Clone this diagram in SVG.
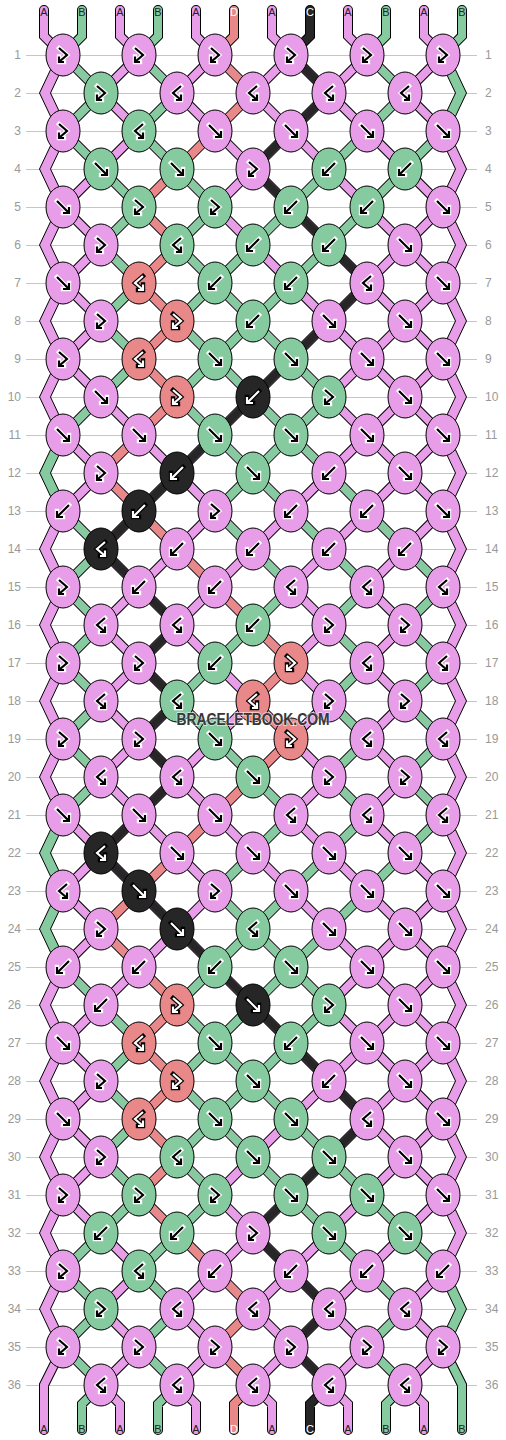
<svg xmlns="http://www.w3.org/2000/svg" xmlns:xlink="http://www.w3.org/1999/xlink" width="506" height="1440" viewBox="0 0 506 1440">
<style>
.gl{fill:none;stroke:#c6c6c6;stroke-width:1}
.rl{font-family:"Liberation Sans",Arial,sans-serif;font-size:12px;fill:#999}
.sl{font-family:"Liberation Sans",Arial,sans-serif;font-size:11px;text-anchor:middle;fill:#222}
.sl .w{fill:#fff}
.o{fill:none;stroke:#000;stroke-width:10}
.c{fill:none;stroke-width:8}
.rc{stroke-linecap:round}
.cA{stroke:#e89de8}.cB{stroke:#86ca9f}.cC{stroke:#262626}.cD{stroke:#e88888}
.eA{fill:#e89de8}.eB{fill:#86ca9f}
#knots ellipse{stroke:#000;stroke-width:1}
.p ellipse{fill:#e89de8}.g ellipse{fill:#86ca9f}.r ellipse{fill:#e88888}.k ellipse{fill:#262626}
.p use,.g use{stroke:#000;color:#fff}
.r use,.k use{stroke:#fff;color:#000}
.wm{font-family:"Liberation Sans",Arial,sans-serif;font-weight:bold;font-size:16px;fill:#383838;stroke:#fff;stroke-opacity:.55;stroke-width:2;paint-order:stroke;text-anchor:middle}
</style>
<defs>
<g id="af"><path d="M-6-6L5 5M0 6H6V0" fill="none" stroke="currentColor" stroke-width="4.4" stroke-linecap="square"/><path d="M-6-6L5 5M0 6H6V0" fill="none" stroke-width="2.2"/></g>
<g id="ab"><path d="M6-6L-5 5M0 6H-6V0" fill="none" stroke="currentColor" stroke-width="4.4" stroke-linecap="square"/><path d="M6-6L-5 5M0 6H-6V0" fill="none" stroke-width="2.2"/></g>
<g id="afb"><path d="M-4-7L4 0L-3.5 6.5M-4 1.5V7H1" fill="none" stroke="currentColor" stroke-width="4.4" stroke-linecap="square"/><path d="M-4-7L4 0L-3.5 6.5M-4 1.5V7H1" fill="none" stroke-width="2.2"/></g>
<g id="abf"><path d="M4-7L-4 0L3.5 6.5M4 1.5V7H-1" fill="none" stroke="currentColor" stroke-width="4.4" stroke-linecap="square"/><path d="M4-7L-4 0L3.5 6.5M4 1.5V7H-1" fill="none" stroke-width="2.2"/></g>
<polygon id="le" points="57.5,-38 39.5,0 57.5,38 68.5,38 50.5,0 68.5,-38" stroke="#000" stroke-width="1"/>
<polygon id="re" points="448.5,-38 466.5,0 448.5,38 437.5,38 455.5,0 437.5,-38" stroke="#000" stroke-width="1"/>
</defs>
<rect width="506" height="1440" fill="#fff"/>
<g id="grid" transform="translate(0 .5)">
<path class="gl" d="M26 55H477M26 93H477M26 131H477M26 169H477M26 207H477M26 245H477M26 283H477M26 321H477M26 359H477M26 397H477M26 435H477M26 473H477M26 511H477M26 549H477M26 587H477M26 625H477M26 663H477M26 701H477M26 739H477M26 777H477M26 815H477M26 853H477M26 891H477M26 929H477M26 967H477M26 1005H477M26 1043H477M26 1081H477M26 1119H477M26 1157H477M26 1195H477M26 1233H477M26 1271H477M26 1309H477M26 1347H477M26 1385H477"/>
</g>
<g id="rowlabels" class="rl">
<g text-anchor="end">
<text x="21" y="59">1</text><text x="21" y="97">2</text><text x="21" y="135">3</text><text x="21" y="173">4</text><text x="21" y="211">5</text><text x="21" y="249">6</text><text x="21" y="287">7</text><text x="21" y="325">8</text><text x="21" y="363">9</text><text x="21" y="401">10</text><text x="21" y="439">11</text><text x="21" y="477">12</text><text x="21" y="515">13</text><text x="21" y="553">14</text><text x="21" y="591">15</text><text x="21" y="629">16</text><text x="21" y="667">17</text><text x="21" y="705">18</text><text x="21" y="743">19</text><text x="21" y="781">20</text><text x="21" y="819">21</text><text x="21" y="857">22</text><text x="21" y="895">23</text><text x="21" y="933">24</text><text x="21" y="971">25</text><text x="21" y="1009">26</text><text x="21" y="1047">27</text><text x="21" y="1085">28</text><text x="21" y="1123">29</text><text x="21" y="1161">30</text><text x="21" y="1199">31</text><text x="21" y="1237">32</text><text x="21" y="1275">33</text><text x="21" y="1313">34</text><text x="21" y="1351">35</text><text x="21" y="1389">36</text>
</g>
<g text-anchor="start">
<text x="485" y="59">1</text><text x="485" y="97">2</text><text x="485" y="135">3</text><text x="485" y="173">4</text><text x="485" y="211">5</text><text x="485" y="249">6</text><text x="485" y="287">7</text><text x="485" y="325">8</text><text x="485" y="363">9</text><text x="485" y="401">10</text><text x="485" y="439">11</text><text x="485" y="477">12</text><text x="485" y="515">13</text><text x="485" y="553">14</text><text x="485" y="591">15</text><text x="485" y="629">16</text><text x="485" y="667">17</text><text x="485" y="705">18</text><text x="485" y="743">19</text><text x="485" y="781">20</text><text x="485" y="819">21</text><text x="485" y="857">22</text><text x="485" y="895">23</text><text x="485" y="933">24</text><text x="485" y="971">25</text><text x="485" y="1009">26</text><text x="485" y="1047">27</text><text x="485" y="1085">28</text><text x="485" y="1123">29</text><text x="485" y="1161">30</text><text x="485" y="1199">31</text><text x="485" y="1237">32</text><text x="485" y="1275">33</text><text x="485" y="1313">34</text><text x="485" y="1351">35</text><text x="485" y="1389">36</text>
</g>
</g>
<g id="connectors">
<g id="edges">
<use href="#le" y="93" class="eA"/><use href="#le" y="169" class="eA"/><use href="#le" y="245" class="eA"/><use href="#le" y="321" class="eA"/><use href="#le" y="397" class="eA"/><use href="#le" y="473" class="eB"/><use href="#le" y="549" class="eA"/><use href="#le" y="625" class="eA"/><use href="#le" y="701" class="eA"/><use href="#le" y="777" class="eA"/><use href="#le" y="853" class="eB"/><use href="#le" y="929" class="eB"/><use href="#le" y="1005" class="eA"/><use href="#le" y="1081" class="eA"/><use href="#le" y="1157" class="eA"/><use href="#le" y="1233" class="eA"/><use href="#le" y="1309" class="eA"/>
<use href="#re" y="93" class="eB"/><use href="#re" y="169" class="eA"/><use href="#re" y="245" class="eA"/><use href="#re" y="321" class="eA"/><use href="#re" y="397" class="eA"/><use href="#re" y="473" class="eA"/><use href="#re" y="549" class="eA"/><use href="#re" y="625" class="eA"/><use href="#re" y="701" class="eA"/><use href="#re" y="777" class="eA"/><use href="#re" y="853" class="eA"/><use href="#re" y="929" class="eA"/><use href="#re" y="1005" class="eA"/><use href="#re" y="1081" class="eA"/><use href="#re" y="1157" class="eA"/><use href="#re" y="1233" class="eA"/><use href="#re" y="1309" class="eB"/>
</g>
<path id="bars-outline" class="o rc" d="M44 10V36L63 55M82 10V36L63 55M120 10V36L139 55M158 10V36L139 55M196 10V36L215 55M234 10V36L215 55M272 10V36L291 55M310 10V36L291 55M348 10V36L367 55M386 10V36L367 55M424 10V36L443 55M462 10V36L443 55M63 1347L44 1385V1430M101 1385L82 1404V1430M101 1385L120 1404V1430M177 1385L158 1404V1430M177 1385L196 1404V1430M253 1385L234 1404V1430M253 1385L272 1404V1430M329 1385L310 1404V1430M329 1385L348 1404V1430M405 1385L386 1404V1430M405 1385L424 1404V1430M443 1347L462 1385V1430"/>
<path id="lattice-outline" class="o" d="M367 55L443 131M291 55L443 207M215 55L443 283M139 55L443 359M63 55L443 435M63 131L443 511M63 207L443 587M63 283L443 663M63 359L443 739M63 435L443 815M63 511L443 891M63 587L443 967M63 663L443 1043M63 739L443 1119M63 815L443 1195M63 891L443 1271M63 967L443 1347M63 1043L405 1385M63 1119L329 1385M63 1195L253 1385M63 1271L177 1385M63 1347L101 1385M139 55L63 131M215 55L63 207M291 55L63 283M367 55L63 359M443 55L63 435M443 131L63 511M443 207L63 587M443 283L63 663M443 359L63 739M443 435L63 815M443 511L63 891M443 587L63 967M443 663L63 1043M443 739L63 1119M443 815L63 1195M443 891L63 1271M443 967L63 1347M443 1043L101 1385M443 1119L177 1385M443 1195L253 1385M443 1271L329 1385M443 1347L405 1385"/>
<path id="lattice-A" class="c cA" d="M367 55L443 131M291 55L443 207M215 55L443 283M139 55L443 359M63 55L443 435M63 131L443 511M63 207L443 587M63 283L443 663M63 359L443 739M63 435L443 815M63 511L443 891M63 587L443 967M63 663L443 1043M63 739L443 1119M63 815L443 1195M63 891L443 1271M63 967L443 1347M63 1043L405 1385M63 1119L329 1385M63 1195L253 1385M63 1271L177 1385M63 1347L101 1385M139 55L63 131M215 55L63 207M291 55L63 283M367 55L63 359M443 55L63 435M443 131L63 511M443 207L63 587M443 283L63 663M443 359L63 739M443 435L63 815M443 511L63 891M443 587L63 967M443 663L63 1043M443 739L63 1119M443 815L63 1195M443 891L63 1271M443 967L63 1347M443 1043L101 1385M443 1119L177 1385M443 1195L253 1385M443 1271L329 1385M443 1347L405 1385"/>
<path id="strand-B" class="c cB" d="M63 55l38 38M139 55l38 38M367 55l38 38M101 93l-38 38M177 93l-38 38M405 93l-38 38M63 131l38 38M139 131l38 38M367 131l-38 38M443 131l-38 38M101 169l38 38M177 169l38 38M329 169l-38 38M405 169l-38 38M139 207l-38 38M215 207l-38 38M291 207l-38 38M367 207l-38 38M101 245l38 38M177 245l38 38M253 245l-38 38M329 245l-38 38M139 283l-38 38M215 283l-38 38M215 283l38 38M291 283l-38 38M101 321l38 38M177 321l38 38M253 321l-38 38M253 321l38 38M139 359l-38 38M215 359l-38 38M215 359l38 38M291 359l38 38M101 397l-38 38M177 397l38 38M253 397l38 38M329 397l-38 38M215 435l38 38M291 435l-38 38M291 435l38 38M253 473l-38 38M253 473l38 38M329 473l38 38M63 511l38 38M215 511l38 38M291 511l38 38M367 511l38 38M101 549l-38 38M253 549l38 38M329 549l38 38M405 549l38 38M63 587l38 38M291 587l-38 38M367 587l-38 38M443 587l-38 38M101 625l-38 38M253 625l-38 38M329 625l38 38M405 625l38 38M63 663l38 38M215 663l-38 38M367 663l-38 38M443 663l-38 38M101 701l-38 38M177 701l38 38M329 701l38 38M405 701l38 38M63 739l38 38M215 739l38 38M367 739l-38 38M443 739l-38 38M101 777l-38 38M253 777l38 38M329 777l38 38M405 777l38 38M291 815l-38 38M367 815l-38 38M443 815l-38 38M253 853l-38 38M329 853l-38 38M405 853l-38 38M215 891l38 38M291 891l-38 38M367 891l-38 38M253 929l-38 38M253 929l38 38M329 929l-38 38M63 967l38 38M215 967l-38 38M291 967l-38 38M291 967l38 38M101 1005l38 38M177 1005l38 38M253 1005l-38 38M329 1005l-38 38M139 1043l-38 38M215 1043l-38 38M215 1043l38 38M291 1043l-38 38M101 1081l38 38M177 1081l38 38M253 1081l-38 38M253 1081l38 38M139 1119l-38 38M215 1119l-38 38M215 1119l38 38M291 1119l38 38M101 1157l38 38M177 1157l38 38M253 1157l38 38M329 1157l38 38M139 1195l-38 38M215 1195l-38 38M291 1195l38 38M367 1195l38 38M101 1233l-38 38M177 1233l-38 38M329 1233l38 38M405 1233l38 38M63 1271l38 38M139 1271l38 38M367 1271l38 38M101 1309l-38 38M177 1309l-38 38M405 1309l-38 38M63 1347l38 38M139 1347l38 38M367 1347l38 38"/>
<path id="strand-D" class="c cD" d="M215 55l38 38M253 93l-38 38M215 131l-38 38M177 169l-38 38M139 207l38 38M177 245l-38 38M139 283l38 38M177 321l-38 38M139 359l38 38M177 397l-38 38M139 435l-38 38M101 473l38 38M139 511l38 38M177 549l38 38M215 587l38 38M253 625l38 38M291 663l-38 38M253 701l38 38M291 739l-38 38M253 777l-38 38M215 815l-38 38M177 853l-38 38M139 891l-38 38M101 929l38 38M139 967l38 38M177 1005l-38 38M139 1043l38 38M177 1081l-38 38M139 1119l38 38M177 1157l-38 38M139 1195l38 38M177 1233l38 38M215 1271l38 38M253 1309l-38 38M215 1347l38 38"/>
<path id="strand-C" class="c cC" d="M291 55l38 38M329 93l-38 38M291 131l-38 38M253 169l38 38M291 207l38 38M329 245l38 38M367 283l-38 38M329 321l-38 38M291 359l-38 38M253 397l-38 38M215 435l-38 38M177 473l-38 38M139 511l-38 38M101 549l38 38M139 587l38 38M177 625l-38 38M139 663l38 38M177 701l-38 38M139 739l38 38M177 777l-38 38M139 815l-38 38M101 853l38 38M139 891l38 38M177 929l38 38M215 967l38 38M253 1005l38 38M291 1043l38 38M329 1081l38 38M367 1119l-38 38M329 1157l-38 38M291 1195l-38 38M253 1233l38 38M291 1271l38 38M329 1309l-38 38M291 1347l38 38"/>
<path id="bars-A" class="c cA rc" d="M44 10V36L63 55M120 10V36L139 55M196 10V36L215 55M272 10V36L291 55M348 10V36L367 55M424 10V36L443 55M63 1347L44 1385V1430M101 1385L120 1404V1430M177 1385L196 1404V1430M253 1385L272 1404V1430M329 1385L348 1404V1430M405 1385L424 1404V1430"/>
<path id="bars-B" class="c cB rc" d="M82 10V36L63 55M158 10V36L139 55M386 10V36L367 55M462 10V36L443 55M101 1385L82 1404V1430M177 1385L158 1404V1430M405 1385L386 1404V1430M443 1347L462 1385V1430"/>
<path id="bars-C" class="c cC rc" d="M310 10V36L291 55M329 1385L310 1404V1430"/>
<path id="bars-D" class="c cD rc" d="M234 10V36L215 55M253 1385L234 1404V1430"/>
</g>
<g id="stringlabels" class="sl">
<text x="44" y="16">A</text><text x="82" y="16">B</text><text x="120" y="16">A</text><text x="158" y="16">B</text><text x="196" y="16">A</text><text x="234" y="16" class="w">D</text><text x="272" y="16">A</text><text x="310" y="16" class="w">C</text><text x="348" y="16">A</text><text x="386" y="16">B</text><text x="424" y="16">A</text><text x="462" y="16">B</text>
<text x="44" y="1433">A</text><text x="82" y="1433">B</text><text x="120" y="1433">A</text><text x="158" y="1433">B</text><text x="196" y="1433">A</text><text x="234" y="1433" class="w">D</text><text x="272" y="1433">A</text><text x="310" y="1433" class="w">C</text><text x="348" y="1433">A</text><text x="386" y="1433">B</text><text x="424" y="1433">A</text><text x="462" y="1433">B</text>
</g>
<g id="knots">
<g id="k1-1" class="p" transform="translate(63 55)"><ellipse rx="17" ry="21"/><use href="#afb"/></g>
<g id="k1-2" class="p" transform="translate(139 55)"><ellipse rx="17" ry="21"/><use href="#afb"/></g>
<g id="k1-3" class="p" transform="translate(215 55)"><ellipse rx="17" ry="21"/><use href="#afb"/></g>
<g id="k1-4" class="p" transform="translate(291 55)"><ellipse rx="17" ry="21"/><use href="#afb"/></g>
<g id="k1-5" class="p" transform="translate(367 55)"><ellipse rx="17" ry="21"/><use href="#afb"/></g>
<g id="k1-6" class="p" transform="translate(443 55)"><ellipse rx="17" ry="21"/><use href="#afb"/></g>
<g id="k2-1" class="g" transform="translate(101 93)"><ellipse rx="17" ry="21"/><use href="#afb"/></g>
<g id="k2-2" class="p" transform="translate(177 93)"><ellipse rx="17" ry="21"/><use href="#abf"/></g>
<g id="k2-3" class="p" transform="translate(253 93)"><ellipse rx="17" ry="21"/><use href="#abf"/></g>
<g id="k2-4" class="p" transform="translate(329 93)"><ellipse rx="17" ry="21"/><use href="#abf"/></g>
<g id="k2-5" class="p" transform="translate(405 93)"><ellipse rx="17" ry="21"/><use href="#abf"/></g>
<g id="k3-1" class="p" transform="translate(63 131)"><ellipse rx="17" ry="21"/><use href="#afb"/></g>
<g id="k3-2" class="g" transform="translate(139 131)"><ellipse rx="17" ry="21"/><use href="#abf"/></g>
<g id="k3-3" class="p" transform="translate(215 131)"><ellipse rx="17" ry="21"/><use href="#af"/></g>
<g id="k3-4" class="p" transform="translate(291 131)"><ellipse rx="17" ry="21"/><use href="#af"/></g>
<g id="k3-5" class="p" transform="translate(367 131)"><ellipse rx="17" ry="21"/><use href="#af"/></g>
<g id="k3-6" class="p" transform="translate(443 131)"><ellipse rx="17" ry="21"/><use href="#af"/></g>
<g id="k4-1" class="g" transform="translate(101 169)"><ellipse rx="17" ry="21"/><use href="#af"/></g>
<g id="k4-2" class="g" transform="translate(177 169)"><ellipse rx="17" ry="21"/><use href="#af"/></g>
<g id="k4-3" class="p" transform="translate(253 169)"><ellipse rx="17" ry="21"/><use href="#afb"/></g>
<g id="k4-4" class="g" transform="translate(329 169)"><ellipse rx="17" ry="21"/><use href="#ab"/></g>
<g id="k4-5" class="g" transform="translate(405 169)"><ellipse rx="17" ry="21"/><use href="#ab"/></g>
<g id="k5-1" class="p" transform="translate(63 207)"><ellipse rx="17" ry="21"/><use href="#af"/></g>
<g id="k5-2" class="g" transform="translate(139 207)"><ellipse rx="17" ry="21"/><use href="#afb"/></g>
<g id="k5-3" class="g" transform="translate(215 207)"><ellipse rx="17" ry="21"/><use href="#afb"/></g>
<g id="k5-4" class="g" transform="translate(291 207)"><ellipse rx="17" ry="21"/><use href="#ab"/></g>
<g id="k5-5" class="g" transform="translate(367 207)"><ellipse rx="17" ry="21"/><use href="#ab"/></g>
<g id="k5-6" class="p" transform="translate(443 207)"><ellipse rx="17" ry="21"/><use href="#af"/></g>
<g id="k6-1" class="p" transform="translate(101 245)"><ellipse rx="17" ry="21"/><use href="#afb"/></g>
<g id="k6-2" class="g" transform="translate(177 245)"><ellipse rx="17" ry="21"/><use href="#abf"/></g>
<g id="k6-3" class="g" transform="translate(253 245)"><ellipse rx="17" ry="21"/><use href="#ab"/></g>
<g id="k6-4" class="g" transform="translate(329 245)"><ellipse rx="17" ry="21"/><use href="#ab"/></g>
<g id="k6-5" class="p" transform="translate(405 245)"><ellipse rx="17" ry="21"/><use href="#af"/></g>
<g id="k7-1" class="p" transform="translate(63 283)"><ellipse rx="17" ry="21"/><use href="#af"/></g>
<g id="k7-2" class="r" transform="translate(139 283)"><ellipse rx="17" ry="21"/><use href="#abf"/></g>
<g id="k7-3" class="g" transform="translate(215 283)"><ellipse rx="17" ry="21"/><use href="#ab"/></g>
<g id="k7-4" class="g" transform="translate(291 283)"><ellipse rx="17" ry="21"/><use href="#ab"/></g>
<g id="k7-5" class="p" transform="translate(367 283)"><ellipse rx="17" ry="21"/><use href="#abf"/></g>
<g id="k7-6" class="p" transform="translate(443 283)"><ellipse rx="17" ry="21"/><use href="#af"/></g>
<g id="k8-1" class="p" transform="translate(101 321)"><ellipse rx="17" ry="21"/><use href="#afb"/></g>
<g id="k8-2" class="r" transform="translate(177 321)"><ellipse rx="17" ry="21"/><use href="#afb"/></g>
<g id="k8-3" class="g" transform="translate(253 321)"><ellipse rx="17" ry="21"/><use href="#ab"/></g>
<g id="k8-4" class="p" transform="translate(329 321)"><ellipse rx="17" ry="21"/><use href="#af"/></g>
<g id="k8-5" class="p" transform="translate(405 321)"><ellipse rx="17" ry="21"/><use href="#af"/></g>
<g id="k9-1" class="p" transform="translate(63 359)"><ellipse rx="17" ry="21"/><use href="#afb"/></g>
<g id="k9-2" class="r" transform="translate(139 359)"><ellipse rx="17" ry="21"/><use href="#abf"/></g>
<g id="k9-3" class="g" transform="translate(215 359)"><ellipse rx="17" ry="21"/><use href="#af"/></g>
<g id="k9-4" class="g" transform="translate(291 359)"><ellipse rx="17" ry="21"/><use href="#af"/></g>
<g id="k9-5" class="p" transform="translate(367 359)"><ellipse rx="17" ry="21"/><use href="#af"/></g>
<g id="k9-6" class="p" transform="translate(443 359)"><ellipse rx="17" ry="21"/><use href="#af"/></g>
<g id="k10-1" class="p" transform="translate(101 397)"><ellipse rx="17" ry="21"/><use href="#af"/></g>
<g id="k10-2" class="r" transform="translate(177 397)"><ellipse rx="17" ry="21"/><use href="#afb"/></g>
<g id="k10-3" class="k" transform="translate(253 397)"><ellipse rx="17" ry="21"/><use href="#ab"/></g>
<g id="k10-4" class="g" transform="translate(329 397)"><ellipse rx="17" ry="21"/><use href="#afb"/></g>
<g id="k10-5" class="p" transform="translate(405 397)"><ellipse rx="17" ry="21"/><use href="#af"/></g>
<g id="k11-1" class="p" transform="translate(63 435)"><ellipse rx="17" ry="21"/><use href="#af"/></g>
<g id="k11-2" class="p" transform="translate(139 435)"><ellipse rx="17" ry="21"/><use href="#af"/></g>
<g id="k11-3" class="g" transform="translate(215 435)"><ellipse rx="17" ry="21"/><use href="#af"/></g>
<g id="k11-4" class="g" transform="translate(291 435)"><ellipse rx="17" ry="21"/><use href="#af"/></g>
<g id="k11-5" class="p" transform="translate(367 435)"><ellipse rx="17" ry="21"/><use href="#af"/></g>
<g id="k11-6" class="p" transform="translate(443 435)"><ellipse rx="17" ry="21"/><use href="#af"/></g>
<g id="k12-1" class="p" transform="translate(101 473)"><ellipse rx="17" ry="21"/><use href="#afb"/></g>
<g id="k12-2" class="k" transform="translate(177 473)"><ellipse rx="17" ry="21"/><use href="#ab"/></g>
<g id="k12-3" class="g" transform="translate(253 473)"><ellipse rx="17" ry="21"/><use href="#af"/></g>
<g id="k12-4" class="p" transform="translate(329 473)"><ellipse rx="17" ry="21"/><use href="#ab"/></g>
<g id="k12-5" class="p" transform="translate(405 473)"><ellipse rx="17" ry="21"/><use href="#af"/></g>
<g id="k13-1" class="p" transform="translate(63 511)"><ellipse rx="17" ry="21"/><use href="#ab"/></g>
<g id="k13-2" class="k" transform="translate(139 511)"><ellipse rx="17" ry="21"/><use href="#ab"/></g>
<g id="k13-3" class="p" transform="translate(215 511)"><ellipse rx="17" ry="21"/><use href="#afb"/></g>
<g id="k13-4" class="p" transform="translate(291 511)"><ellipse rx="17" ry="21"/><use href="#ab"/></g>
<g id="k13-5" class="p" transform="translate(367 511)"><ellipse rx="17" ry="21"/><use href="#ab"/></g>
<g id="k13-6" class="p" transform="translate(443 511)"><ellipse rx="17" ry="21"/><use href="#af"/></g>
<g id="k14-1" class="k" transform="translate(101 549)"><ellipse rx="17" ry="21"/><use href="#abf"/></g>
<g id="k14-2" class="p" transform="translate(177 549)"><ellipse rx="17" ry="21"/><use href="#ab"/></g>
<g id="k14-3" class="p" transform="translate(253 549)"><ellipse rx="17" ry="21"/><use href="#ab"/></g>
<g id="k14-4" class="p" transform="translate(329 549)"><ellipse rx="17" ry="21"/><use href="#ab"/></g>
<g id="k14-5" class="p" transform="translate(405 549)"><ellipse rx="17" ry="21"/><use href="#ab"/></g>
<g id="k15-1" class="p" transform="translate(63 587)"><ellipse rx="17" ry="21"/><use href="#afb"/></g>
<g id="k15-2" class="p" transform="translate(139 587)"><ellipse rx="17" ry="21"/><use href="#ab"/></g>
<g id="k15-3" class="p" transform="translate(215 587)"><ellipse rx="17" ry="21"/><use href="#ab"/></g>
<g id="k15-4" class="p" transform="translate(291 587)"><ellipse rx="17" ry="21"/><use href="#abf"/></g>
<g id="k15-5" class="p" transform="translate(367 587)"><ellipse rx="17" ry="21"/><use href="#abf"/></g>
<g id="k15-6" class="p" transform="translate(443 587)"><ellipse rx="17" ry="21"/><use href="#abf"/></g>
<g id="k16-1" class="p" transform="translate(101 625)"><ellipse rx="17" ry="21"/><use href="#abf"/></g>
<g id="k16-2" class="p" transform="translate(177 625)"><ellipse rx="17" ry="21"/><use href="#abf"/></g>
<g id="k16-3" class="g" transform="translate(253 625)"><ellipse rx="17" ry="21"/><use href="#ab"/></g>
<g id="k16-4" class="p" transform="translate(329 625)"><ellipse rx="17" ry="21"/><use href="#afb"/></g>
<g id="k16-5" class="p" transform="translate(405 625)"><ellipse rx="17" ry="21"/><use href="#afb"/></g>
<g id="k17-1" class="p" transform="translate(63 663)"><ellipse rx="17" ry="21"/><use href="#afb"/></g>
<g id="k17-2" class="p" transform="translate(139 663)"><ellipse rx="17" ry="21"/><use href="#afb"/></g>
<g id="k17-3" class="g" transform="translate(215 663)"><ellipse rx="17" ry="21"/><use href="#ab"/></g>
<g id="k17-4" class="r" transform="translate(291 663)"><ellipse rx="17" ry="21"/><use href="#afb"/></g>
<g id="k17-5" class="p" transform="translate(367 663)"><ellipse rx="17" ry="21"/><use href="#abf"/></g>
<g id="k17-6" class="p" transform="translate(443 663)"><ellipse rx="17" ry="21"/><use href="#abf"/></g>
<g id="k18-1" class="p" transform="translate(101 701)"><ellipse rx="17" ry="21"/><use href="#abf"/></g>
<g id="k18-2" class="g" transform="translate(177 701)"><ellipse rx="17" ry="21"/><use href="#abf"/></g>
<g id="k18-3" class="r" transform="translate(253 701)"><ellipse rx="17" ry="21"/><use href="#abf"/></g>
<g id="k18-4" class="p" transform="translate(329 701)"><ellipse rx="17" ry="21"/><use href="#afb"/></g>
<g id="k18-5" class="p" transform="translate(405 701)"><ellipse rx="17" ry="21"/><use href="#afb"/></g>
<g id="k19-1" class="p" transform="translate(63 739)"><ellipse rx="17" ry="21"/><use href="#afb"/></g>
<g id="k19-2" class="p" transform="translate(139 739)"><ellipse rx="17" ry="21"/><use href="#afb"/></g>
<g id="k19-3" class="g" transform="translate(215 739)"><ellipse rx="17" ry="21"/><use href="#af"/></g>
<g id="k19-4" class="r" transform="translate(291 739)"><ellipse rx="17" ry="21"/><use href="#afb"/></g>
<g id="k19-5" class="p" transform="translate(367 739)"><ellipse rx="17" ry="21"/><use href="#abf"/></g>
<g id="k19-6" class="p" transform="translate(443 739)"><ellipse rx="17" ry="21"/><use href="#abf"/></g>
<g id="k20-1" class="p" transform="translate(101 777)"><ellipse rx="17" ry="21"/><use href="#abf"/></g>
<g id="k20-2" class="p" transform="translate(177 777)"><ellipse rx="17" ry="21"/><use href="#abf"/></g>
<g id="k20-3" class="g" transform="translate(253 777)"><ellipse rx="17" ry="21"/><use href="#af"/></g>
<g id="k20-4" class="p" transform="translate(329 777)"><ellipse rx="17" ry="21"/><use href="#afb"/></g>
<g id="k20-5" class="p" transform="translate(405 777)"><ellipse rx="17" ry="21"/><use href="#afb"/></g>
<g id="k21-1" class="p" transform="translate(63 815)"><ellipse rx="17" ry="21"/><use href="#af"/></g>
<g id="k21-2" class="p" transform="translate(139 815)"><ellipse rx="17" ry="21"/><use href="#af"/></g>
<g id="k21-3" class="p" transform="translate(215 815)"><ellipse rx="17" ry="21"/><use href="#af"/></g>
<g id="k21-4" class="p" transform="translate(291 815)"><ellipse rx="17" ry="21"/><use href="#abf"/></g>
<g id="k21-5" class="p" transform="translate(367 815)"><ellipse rx="17" ry="21"/><use href="#abf"/></g>
<g id="k21-6" class="p" transform="translate(443 815)"><ellipse rx="17" ry="21"/><use href="#abf"/></g>
<g id="k22-1" class="k" transform="translate(101 853)"><ellipse rx="17" ry="21"/><use href="#abf"/></g>
<g id="k22-2" class="p" transform="translate(177 853)"><ellipse rx="17" ry="21"/><use href="#af"/></g>
<g id="k22-3" class="p" transform="translate(253 853)"><ellipse rx="17" ry="21"/><use href="#af"/></g>
<g id="k22-4" class="p" transform="translate(329 853)"><ellipse rx="17" ry="21"/><use href="#af"/></g>
<g id="k22-5" class="p" transform="translate(405 853)"><ellipse rx="17" ry="21"/><use href="#af"/></g>
<g id="k23-1" class="p" transform="translate(63 891)"><ellipse rx="17" ry="21"/><use href="#abf"/></g>
<g id="k23-2" class="k" transform="translate(139 891)"><ellipse rx="17" ry="21"/><use href="#af"/></g>
<g id="k23-3" class="p" transform="translate(215 891)"><ellipse rx="17" ry="21"/><use href="#afb"/></g>
<g id="k23-4" class="p" transform="translate(291 891)"><ellipse rx="17" ry="21"/><use href="#af"/></g>
<g id="k23-5" class="p" transform="translate(367 891)"><ellipse rx="17" ry="21"/><use href="#af"/></g>
<g id="k23-6" class="p" transform="translate(443 891)"><ellipse rx="17" ry="21"/><use href="#af"/></g>
<g id="k24-1" class="p" transform="translate(101 929)"><ellipse rx="17" ry="21"/><use href="#afb"/></g>
<g id="k24-2" class="k" transform="translate(177 929)"><ellipse rx="17" ry="21"/><use href="#af"/></g>
<g id="k24-3" class="g" transform="translate(253 929)"><ellipse rx="17" ry="21"/><use href="#abf"/></g>
<g id="k24-4" class="p" transform="translate(329 929)"><ellipse rx="17" ry="21"/><use href="#af"/></g>
<g id="k24-5" class="p" transform="translate(405 929)"><ellipse rx="17" ry="21"/><use href="#af"/></g>
<g id="k25-1" class="p" transform="translate(63 967)"><ellipse rx="17" ry="21"/><use href="#ab"/></g>
<g id="k25-2" class="p" transform="translate(139 967)"><ellipse rx="17" ry="21"/><use href="#ab"/></g>
<g id="k25-3" class="g" transform="translate(215 967)"><ellipse rx="17" ry="21"/><use href="#ab"/></g>
<g id="k25-4" class="g" transform="translate(291 967)"><ellipse rx="17" ry="21"/><use href="#af"/></g>
<g id="k25-5" class="p" transform="translate(367 967)"><ellipse rx="17" ry="21"/><use href="#af"/></g>
<g id="k25-6" class="p" transform="translate(443 967)"><ellipse rx="17" ry="21"/><use href="#af"/></g>
<g id="k26-1" class="p" transform="translate(101 1005)"><ellipse rx="17" ry="21"/><use href="#ab"/></g>
<g id="k26-2" class="r" transform="translate(177 1005)"><ellipse rx="17" ry="21"/><use href="#afb"/></g>
<g id="k26-3" class="k" transform="translate(253 1005)"><ellipse rx="17" ry="21"/><use href="#af"/></g>
<g id="k26-4" class="g" transform="translate(329 1005)"><ellipse rx="17" ry="21"/><use href="#afb"/></g>
<g id="k26-5" class="p" transform="translate(405 1005)"><ellipse rx="17" ry="21"/><use href="#af"/></g>
<g id="k27-1" class="p" transform="translate(63 1043)"><ellipse rx="17" ry="21"/><use href="#af"/></g>
<g id="k27-2" class="r" transform="translate(139 1043)"><ellipse rx="17" ry="21"/><use href="#abf"/></g>
<g id="k27-3" class="g" transform="translate(215 1043)"><ellipse rx="17" ry="21"/><use href="#af"/></g>
<g id="k27-4" class="g" transform="translate(291 1043)"><ellipse rx="17" ry="21"/><use href="#ab"/></g>
<g id="k27-5" class="p" transform="translate(367 1043)"><ellipse rx="17" ry="21"/><use href="#af"/></g>
<g id="k27-6" class="p" transform="translate(443 1043)"><ellipse rx="17" ry="21"/><use href="#af"/></g>
<g id="k28-1" class="p" transform="translate(101 1081)"><ellipse rx="17" ry="21"/><use href="#afb"/></g>
<g id="k28-2" class="r" transform="translate(177 1081)"><ellipse rx="17" ry="21"/><use href="#afb"/></g>
<g id="k28-3" class="g" transform="translate(253 1081)"><ellipse rx="17" ry="21"/><use href="#af"/></g>
<g id="k28-4" class="p" transform="translate(329 1081)"><ellipse rx="17" ry="21"/><use href="#ab"/></g>
<g id="k28-5" class="p" transform="translate(405 1081)"><ellipse rx="17" ry="21"/><use href="#af"/></g>
<g id="k29-1" class="p" transform="translate(63 1119)"><ellipse rx="17" ry="21"/><use href="#af"/></g>
<g id="k29-2" class="r" transform="translate(139 1119)"><ellipse rx="17" ry="21"/><use href="#abf"/></g>
<g id="k29-3" class="g" transform="translate(215 1119)"><ellipse rx="17" ry="21"/><use href="#af"/></g>
<g id="k29-4" class="g" transform="translate(291 1119)"><ellipse rx="17" ry="21"/><use href="#af"/></g>
<g id="k29-5" class="p" transform="translate(367 1119)"><ellipse rx="17" ry="21"/><use href="#abf"/></g>
<g id="k29-6" class="p" transform="translate(443 1119)"><ellipse rx="17" ry="21"/><use href="#af"/></g>
<g id="k30-1" class="p" transform="translate(101 1157)"><ellipse rx="17" ry="21"/><use href="#afb"/></g>
<g id="k30-2" class="g" transform="translate(177 1157)"><ellipse rx="17" ry="21"/><use href="#abf"/></g>
<g id="k30-3" class="g" transform="translate(253 1157)"><ellipse rx="17" ry="21"/><use href="#af"/></g>
<g id="k30-4" class="g" transform="translate(329 1157)"><ellipse rx="17" ry="21"/><use href="#af"/></g>
<g id="k30-5" class="p" transform="translate(405 1157)"><ellipse rx="17" ry="21"/><use href="#af"/></g>
<g id="k31-1" class="p" transform="translate(63 1195)"><ellipse rx="17" ry="21"/><use href="#afb"/></g>
<g id="k31-2" class="g" transform="translate(139 1195)"><ellipse rx="17" ry="21"/><use href="#afb"/></g>
<g id="k31-3" class="g" transform="translate(215 1195)"><ellipse rx="17" ry="21"/><use href="#afb"/></g>
<g id="k31-4" class="g" transform="translate(291 1195)"><ellipse rx="17" ry="21"/><use href="#af"/></g>
<g id="k31-5" class="g" transform="translate(367 1195)"><ellipse rx="17" ry="21"/><use href="#af"/></g>
<g id="k31-6" class="p" transform="translate(443 1195)"><ellipse rx="17" ry="21"/><use href="#af"/></g>
<g id="k32-1" class="g" transform="translate(101 1233)"><ellipse rx="17" ry="21"/><use href="#ab"/></g>
<g id="k32-2" class="g" transform="translate(177 1233)"><ellipse rx="17" ry="21"/><use href="#ab"/></g>
<g id="k32-3" class="p" transform="translate(253 1233)"><ellipse rx="17" ry="21"/><use href="#afb"/></g>
<g id="k32-4" class="g" transform="translate(329 1233)"><ellipse rx="17" ry="21"/><use href="#af"/></g>
<g id="k32-5" class="g" transform="translate(405 1233)"><ellipse rx="17" ry="21"/><use href="#af"/></g>
<g id="k33-1" class="p" transform="translate(63 1271)"><ellipse rx="17" ry="21"/><use href="#afb"/></g>
<g id="k33-2" class="g" transform="translate(139 1271)"><ellipse rx="17" ry="21"/><use href="#abf"/></g>
<g id="k33-3" class="p" transform="translate(215 1271)"><ellipse rx="17" ry="21"/><use href="#ab"/></g>
<g id="k33-4" class="p" transform="translate(291 1271)"><ellipse rx="17" ry="21"/><use href="#ab"/></g>
<g id="k33-5" class="p" transform="translate(367 1271)"><ellipse rx="17" ry="21"/><use href="#ab"/></g>
<g id="k33-6" class="p" transform="translate(443 1271)"><ellipse rx="17" ry="21"/><use href="#ab"/></g>
<g id="k34-1" class="g" transform="translate(101 1309)"><ellipse rx="17" ry="21"/><use href="#afb"/></g>
<g id="k34-2" class="p" transform="translate(177 1309)"><ellipse rx="17" ry="21"/><use href="#abf"/></g>
<g id="k34-3" class="p" transform="translate(253 1309)"><ellipse rx="17" ry="21"/><use href="#abf"/></g>
<g id="k34-4" class="p" transform="translate(329 1309)"><ellipse rx="17" ry="21"/><use href="#abf"/></g>
<g id="k34-5" class="p" transform="translate(405 1309)"><ellipse rx="17" ry="21"/><use href="#abf"/></g>
<g id="k35-1" class="p" transform="translate(63 1347)"><ellipse rx="17" ry="21"/><use href="#afb"/></g>
<g id="k35-2" class="p" transform="translate(139 1347)"><ellipse rx="17" ry="21"/><use href="#afb"/></g>
<g id="k35-3" class="p" transform="translate(215 1347)"><ellipse rx="17" ry="21"/><use href="#afb"/></g>
<g id="k35-4" class="p" transform="translate(291 1347)"><ellipse rx="17" ry="21"/><use href="#afb"/></g>
<g id="k35-5" class="p" transform="translate(367 1347)"><ellipse rx="17" ry="21"/><use href="#afb"/></g>
<g id="k35-6" class="p" transform="translate(443 1347)"><ellipse rx="17" ry="21"/><use href="#afb"/></g>
<g id="k36-1" class="p" transform="translate(101 1385)"><ellipse rx="17" ry="21"/><use href="#abf"/></g>
<g id="k36-2" class="p" transform="translate(177 1385)"><ellipse rx="17" ry="21"/><use href="#abf"/></g>
<g id="k36-3" class="p" transform="translate(253 1385)"><ellipse rx="17" ry="21"/><use href="#abf"/></g>
<g id="k36-4" class="p" transform="translate(329 1385)"><ellipse rx="17" ry="21"/><use href="#abf"/></g>
<g id="k36-5" class="p" transform="translate(405 1385)"><ellipse rx="17" ry="21"/><use href="#abf"/></g>
</g>
<text id="watermark" class="wm" x="253" y="725" textLength="153" lengthAdjust="spacingAndGlyphs">BRACELETBOOK.COM</text>
</svg>
